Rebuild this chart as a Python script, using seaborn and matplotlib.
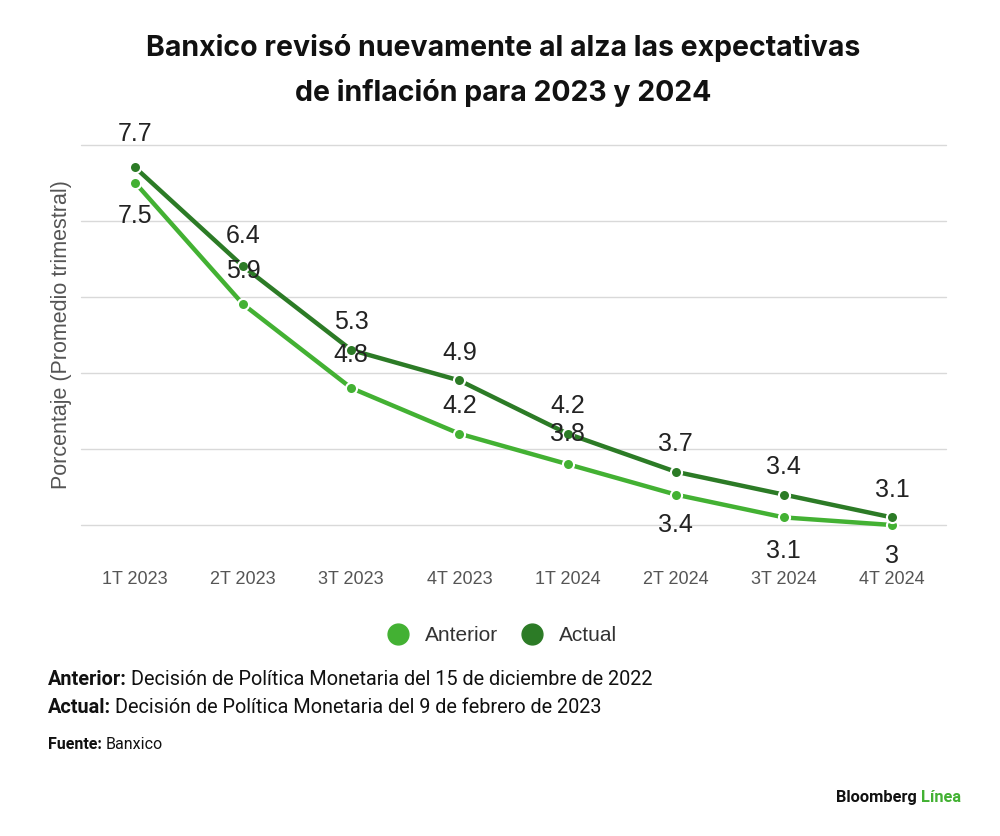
import matplotlib
matplotlib.use('Agg')
import matplotlib.pyplot as plt
import seaborn as sns
import pandas as pd
from matplotlib.lines import Line2D

# data
quarters = ['1T 2023', '2T 2023', '3T 2023', '4T 2023',
            '1T 2024', '2T 2024', '3T 2024', '4T 2024']
anterior = [7.5, 5.9, 4.8, 4.2, 3.8, 3.4, 3.1, 3.0]
actual = [7.7, 6.4, 5.3, 4.9, 4.2, 3.7, 3.4, 3.1]
label_anterior = ['7.5', '5.9', '4.8', '4.2', '3.8', '3.4', '3.1', '3']
label_actual = ['7.7', '6.4', '5.3', '4.9', '4.2', '3.7', '3.4', '3.1']

# label offsets (points): anterior labels go up or down, actual always above
off_anterior = [-24, 24, 24, 20, 22, -22, -24, -22]
off_actual = [24, 22, 20, 20, 20, 20, 20, 20]

c_ant = '#43b133'
c_act = '#2c7b26'

sns.set_style('white')
plt.rcParams['font.family'] = ['Liberation Sans', 'DejaVu Sans']

df = pd.DataFrame({
    'x': list(range(len(quarters))) * 2,
    'value': anterior + actual,
    'serie': ['Anterior'] * len(quarters) + ['Actual'] * len(quarters),
})

fig = plt.figure(figsize=(10, 8.36), dpi=100)
ax = fig.add_axes([0.081, 0.372, 0.865, 0.455])

sns.lineplot(data=df, x='x', y='value', hue='serie', ax=ax,
             palette={'Anterior': c_ant, 'Actual': c_act},
             hue_order=['Anterior', 'Actual'],
             marker='o', markersize=8, linewidth=3.2,
             markeredgecolor='white', markeredgewidth=1.5,
             legend=False)
for ln in ax.lines:
    ln.set_clip_on(False)
    ln.set_zorder(3)

ax.set_xlim(-0.5, len(quarters) - 0.5)
ax.set_ylim(3, 8)
ax.set_yticks([3, 4, 5, 6, 7, 8])
ax.set_yticklabels([])
ax.tick_params(axis='y', length=0)
ax.grid(axis='y', color='#d9d9d9', linewidth=1)
ax.set_axisbelow(True)
for gl in ax.get_ygridlines():
    gl.set_clip_on(False)
for s in ax.spines.values():
    s.set_visible(False)

ax.set_xticks(range(len(quarters)))
ax.set_xticklabels(quarters, fontsize=13, color='#555555')
ax.tick_params(axis='x', length=0, pad=33)
ax.set_xlabel('')
ax.set_ylabel('Porcentaje (Promedio trimestral)', fontsize=15.5, color='#555555',
              labelpad=3)

for i, (v, lab, off) in enumerate(zip(anterior, label_anterior, off_anterior)):
    ax.annotate(lab, (i, v), xytext=(0, off), textcoords='offset points',
                ha='center', va='center', fontsize=18, color='#222222')
for i, (v, lab, off) in enumerate(zip(actual, label_actual, off_actual)):
    ax.annotate(lab, (i, v), xytext=(0, off), textcoords='offset points',
                ha='center', va='center', fontsize=18, color='#222222')

# title
fig.text(0.503, 0.943, 'Banxico revisó nuevamente al alza las expectativas',
         ha='center', va='center', fontsize=20.5, fontweight='bold',
         family=['Inter', 'DejaVu Sans'], color='#111111')
fig.text(0.503, 0.889, 'de inflación para 2023 y 2024',
         ha='center', va='center', fontsize=20.5, fontweight='bold',
         family=['Inter', 'DejaVu Sans'], color='#111111')

# legend
handles = [Line2D([], [], marker='o', linestyle='', markersize=15, color=c_ant),
           Line2D([], [], marker='o', linestyle='', markersize=15, color=c_act)]
fig.legend(handles, ['Anterior', 'Actual'], loc='center', bbox_to_anchor=(0.497, 0.240),
           ncol=2, frameon=False, fontsize=15, handletextpad=0.3,
           columnspacing=0.6, labelcolor='#333333')

# footnotes
def two_part(x, y, bold, rest, size):
    t = fig.text(x, y, bold, fontsize=size, fontweight='bold', va='center',
                 family=['Roboto', 'DejaVu Sans'], color='#111111')
    plt.annotate(rest, xy=(1, 0.5), xycoords=t, xytext=(3, 0),
                 textcoords='offset points', va='center', ha='left',
                 fontsize=size, family=['Roboto', 'DejaVu Sans'], color='#111111',
                 annotation_clip=False)

two_part(0.048, 0.187, 'Anterior:', 'Decisión de Política Monetaria del 15 de diciembre de 2022', 14.3)
two_part(0.048, 0.154, 'Actual:', 'Decisión de Política Monetaria del 9 de febrero de 2023', 14.3)
two_part(0.048, 0.110, 'Fuente:', 'Banxico', 11.5)

t = fig.text(0.836, 0.046, 'Bloomberg', fontsize=11.8, fontweight='bold', va='center',
             family=['Roboto', 'DejaVu Sans'], color='#111111')
plt.annotate('Línea', xy=(1, 0.5), xycoords=t, xytext=(3, 0), textcoords='offset points',
             va='center', ha='left', fontsize=11.8, fontweight='bold',
             family=['Roboto', 'DejaVu Sans'], color=c_ant, annotation_clip=False)

plt.savefig('out.png', dpi=100, facecolor='white')
plt.close()
